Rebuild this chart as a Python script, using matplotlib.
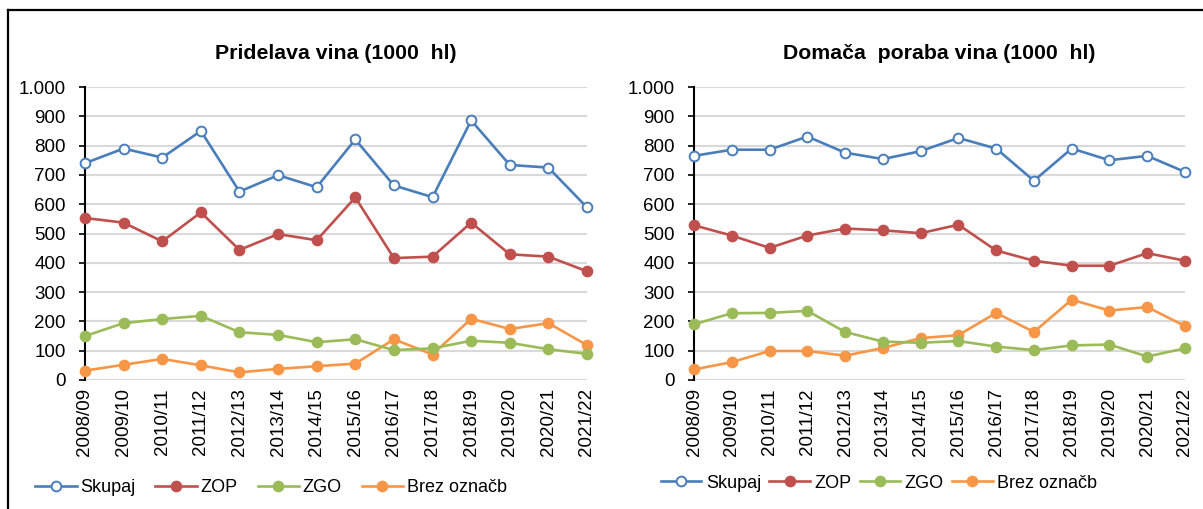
import matplotlib
matplotlib.use("Agg")
import matplotlib.pyplot as plt
from matplotlib.lines import Line2D
from matplotlib.ticker import FuncFormatter

plt.rcParams['font.family'] = ['Liberation Sans', 'DejaVu Sans']

years = ['2008/09', '2009/10', '2010/11', '2011/12', '2012/13', '2013/14', '2014/15',
         '2015/16', '2016/17', '2017/18', '2018/19', '2019/20', '2020/21', '2021/22']

# Pridelava vina (1000 hl)
prod_skupaj = [740, 790, 759, 850, 643, 699, 658, 821, 664, 624, 886, 734, 725, 589]
prod_zop    = [553, 537, 473, 572, 444, 498, 477, 623, 416, 421, 537, 429, 421, 371]
prod_zgo    = [150, 194, 208, 219, 163, 154, 129, 139, 102, 108, 134, 127, 105, 89]
prod_brez   = [32, 52, 72, 50, 26, 38, 47, 56, 139, 87, 209, 174, 194, 119]

# Domača poraba vina (1000 hl)
cons_skupaj = [765, 786, 786, 831, 776, 754, 781, 826, 790, 680, 790, 750, 765, 710]
cons_zop    = [528, 493, 451, 493, 517, 511, 501, 530, 442, 407, 390, 390, 433, 407]
cons_zgo    = [190, 228, 229, 236, 164, 131, 127, 133, 114, 102, 118, 121, 80, 108]
cons_brez   = [36, 61, 99, 99, 83, 109, 143, 153, 229, 164, 274, 237, 249, 184]

labels = ['Skupaj', 'ZOP', 'ZGO', 'Brez označb']
colors = ['#4A7EBB', '#C0504D', '#9BBB59', '#F79646']

W, H = 1203, 509
fig = plt.figure(figsize=(W / 100, H / 100), dpi=100)


def thousands(v, _):
    return f'{int(v):,}'.replace(',', '.')


def draw(ax, series, title):
    x = range(len(years))
    for i, (vals, lab, c) in enumerate(zip(series, labels, colors)):
        face = 'white' if i == 0 else c
        ax.plot(x, vals, color=c, lw=1.9, marker='o', ms=7,
                markerfacecolor=face, markeredgecolor=c, markeredgewidth=1.4,
                label=lab, zorder=3 + (3 - i) * 0.1, clip_on=False)
    ax.set_xlim(0, len(years) - 1)
    ax.set_ylim(0, 1000)
    ax.set_yticks(range(0, 1001, 100))
    ax.yaxis.set_major_formatter(FuncFormatter(thousands))
    ax.set_xticks(list(x))
    ax.set_xticklabels(years, rotation=90, fontsize=13.5)
    ax.tick_params(axis='x', length=0, pad=6)
    ax.tick_params(axis='y', length=4, width=1.2, labelsize=13.5, pad=10,
                   direction='out', color='black')
    ax.grid(axis='y', color='#D9D9D9', lw=1.5)
    ax.set_axisbelow(True)
    for s in ['top', 'right', 'bottom']:
        ax.spines[s].set_visible(False)
    ax.spines['left'].set_linewidth(1.5)
    ax.spines['left'].set_color('black')
    ax.set_title(title, fontsize=15.3, fontweight='bold', pad=20)


ax1 = fig.add_axes([85 / W, 1 - 380 / H, 502 / W, 293 / H])
draw(ax1, [prod_skupaj, prod_zop, prod_zgo, prod_brez], 'Pridelava vina (1000  hl)')
ax2 = fig.add_axes([694 / W, 1 - 380 / H, 491 / W, 293 / H])
draw(ax2, [cons_skupaj, cons_zop, cons_zgo, cons_brez], 'Domača  poraba vina (1000  hl)')

# legends: left one is spread wider than the right one
for ax, cx, cy, hl, tp, cs in [(ax1, 271, 488, 2.3, 0.2, 1.1),
                               (ax2, 879, 483, 2.25, 0.25, 0.45)]:
    h, l = ax.get_legend_handles_labels()
    fig.legend(h, l, loc='center', bbox_to_anchor=(cx / W, 1 - cy / H), ncol=4,
               frameon=False, fontsize=13, handlelength=hl, handletextpad=tp,
               columnspacing=cs, borderaxespad=0)

# outer frame (top and left edges visible)
fig.add_artist(Line2D([8 / W, 1], [1 - 10 / H, 1 - 10 / H], color='black', lw=1.6))
fig.add_artist(Line2D([8 / W, 8 / W], [0, 1 - 10 / H], color='black', lw=1.6))

fig.savefig('out.png', dpi=100, facecolor='white')
